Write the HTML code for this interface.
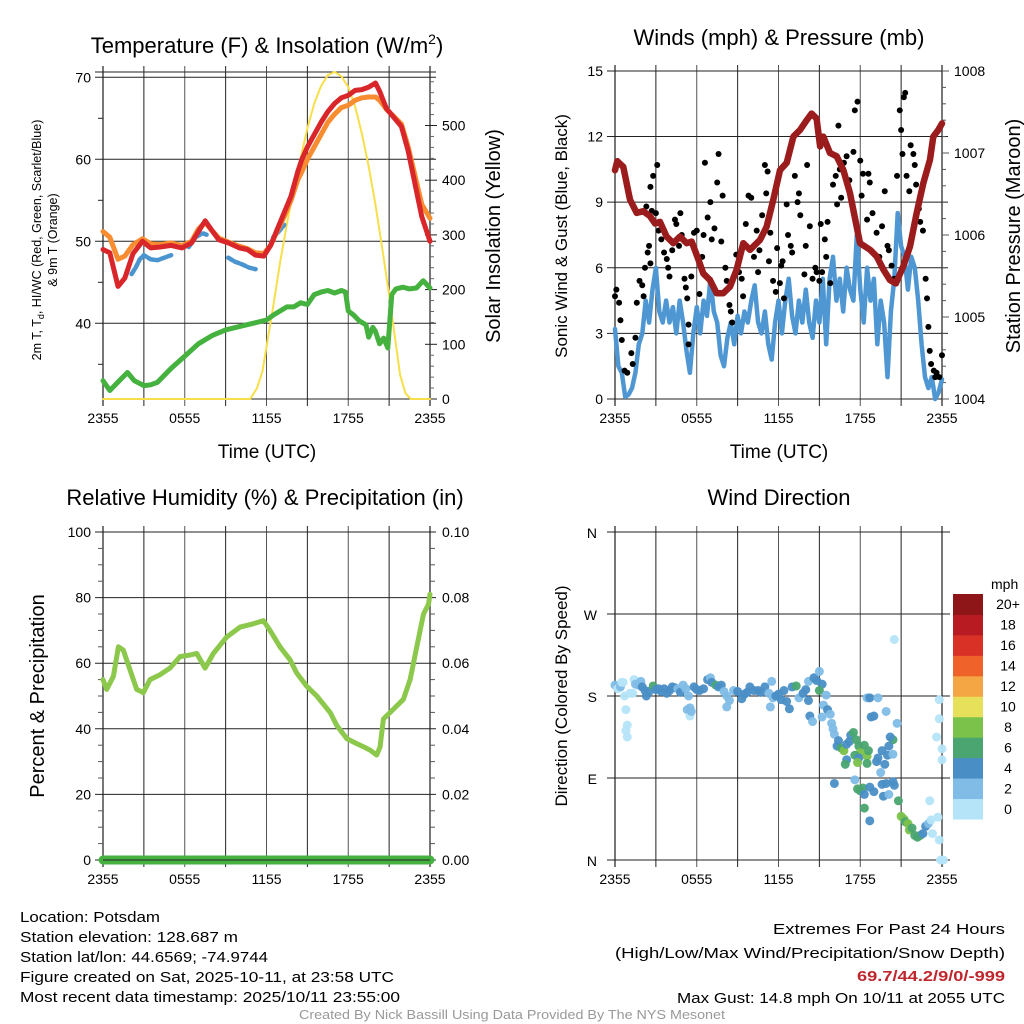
<!DOCTYPE html>
<html><head><meta charset="utf-8">
<style>
html,body{margin:0;padding:0;background:#fff;}
svg{display:block;font-family:"Liberation Sans",sans-serif;}
.nar{font-family:"Liberation Sans Narrow","Liberation Sans",sans-serif;}
</style></head>
<body>
<svg id="fig" xmlns="http://www.w3.org/2000/svg" width="1024" height="1024" viewBox="0 0 1024 1024">
<text x="267" y="53" font-size="22" text-anchor="middle">Temperature (F) &amp; Insolation (W/m<tspan font-size="14" dy="-9">2</tspan><tspan dy="9">)</tspan></text>
<text x="779" y="45" font-size="22" text-anchor="middle">Winds (mph) &amp; Pressure (mb)</text>
<text x="265" y="505" font-size="22" text-anchor="middle">Relative Humidity (%) &amp; Precipitation (in)</text>
<text x="779" y="505" font-size="22" text-anchor="middle">Wind Direction</text>

<text transform="translate(41,240) rotate(-90)" font-size="12.5" text-anchor="middle">2m T, T<tspan font-size="9" dy="3">d</tspan><tspan dy="-3">, HI/WC (Red, Green, Scarlet/Blue)</tspan></text>
<text transform="translate(57,240) rotate(-90)" font-size="12.5" text-anchor="middle">&amp; 9m T (Orange)</text>
<text transform="translate(500,236) rotate(-90)" font-size="20" text-anchor="middle">Solar Insolation (Yellow)</text>
<text transform="translate(567,236) rotate(-90)" font-size="17" text-anchor="middle">Sonic Wind &amp; Gust (Blue, Black)</text>
<text transform="translate(1020,236) rotate(-90)" font-size="20" text-anchor="middle">Station Pressure (Maroon)</text>
<text transform="translate(44,696) rotate(-90)" font-size="20" text-anchor="middle">Percent &amp; Precipitation</text>
<text transform="translate(567,696) rotate(-90)" font-size="17" text-anchor="middle">Direction (Colored By Speed)</text>
<text x="267" y="458" font-size="19" text-anchor="middle">Time (UTC)</text>
<text x="779" y="458" font-size="19" text-anchor="middle">Time (UTC)</text>

<g class="nar" font-size="14.5">
<text x="20" y="922" textLength="140" lengthAdjust="spacingAndGlyphs">Location: Potsdam</text>
<text x="20" y="942" textLength="218" lengthAdjust="spacingAndGlyphs">Station elevation: 128.687 m</text>
<text x="20" y="962" textLength="248" lengthAdjust="spacingAndGlyphs">Station lat/lon: 44.6569; -74.9744</text>
<text x="20" y="982" textLength="374" lengthAdjust="spacingAndGlyphs">Figure created on Sat, 2025-10-11, at 23:58 UTC</text>
<text x="20" y="1002" textLength="380" lengthAdjust="spacingAndGlyphs">Most recent data timestamp: 2025/10/11 23:55:00</text>
<text x="1005" y="934" text-anchor="end" textLength="232" lengthAdjust="spacingAndGlyphs">Extremes For Past 24 Hours</text>
<text x="1005" y="958" text-anchor="end" textLength="390" lengthAdjust="spacingAndGlyphs">(High/Low/Max Wind/Precipitation/Snow Depth)</text>
<text x="1005" y="981" text-anchor="end" font-weight="bold" fill="#c0272d" textLength="148" lengthAdjust="spacingAndGlyphs">69.7/44.2/9/0/-999</text>
<text x="1005" y="1003" text-anchor="end" textLength="328" lengthAdjust="spacingAndGlyphs">Max Gust: 14.8 mph On 10/11 at 2055 UTC</text>
<text x="512" y="1019" text-anchor="middle" font-size="12.5" fill="#999" textLength="426" lengthAdjust="spacingAndGlyphs">Created By Nick Bassill Using Data Provided By The NYS Mesonet</text>
</g>
<g id="layer"></g>
</svg>
<script>
// ---- data ----
const timeTicks = ["2355","0555","1155","1755","2355"];
const tempTicks = [40,50,60,70];
const insolTicks = [0,100,200,300,400,500];
const windTicks = [0,3,6,9,12,15];
const presTicks = [1004,1005,1006,1007,1008];
const rhTicks = [0,20,40,60,80,100];
const precipTicks = ["0.00","0.02","0.04","0.06","0.08","0.10"];
const dirTicks = ["N","E","S","W","N"];
const speedBins = ["0","2","4","6","8","10","12","14","16","18","20+"];

const tempH = [0,0.5,1.1,1.6,2.2,2.9,3.5,4.2,5,5.8,6.5,7.0,7.5,8.0,8.5,9.2,10,10.6,11.2,11.8,12.3,12.8,13.3,13.8,14.3,14.6,15.0,15.5,16.0,16.5,17.0,17.5,18.0,18.5,19.0,19.5,20.0,20.3,20.8,21.3,21.9,22.4,22.9,23.4,24];
const tempT = [49,48.6,44.5,45.5,48.5,50,49.2,49.3,49.5,49.2,49.8,51.2,52.5,51.3,50.2,49.8,49.2,49,48.3,48.2,49.5,51.5,53.5,55.5,58.5,60,61.5,63,64.5,65.8,66.8,67.5,67.8,68.4,68.5,68.8,69.3,68.3,66.2,65.2,64,61,57,53,50];
const temp9T = [51.2,50.5,47.8,48.2,49.6,50.3,49.7,49.6,49.8,49.5,50,51.5,52.3,51.3,50.4,49.9,49.4,49.1,48.6,48.5,49.5,51.3,53,55,57.5,58.5,60,61.5,63,64.5,65.5,66.3,66.6,67.2,67.5,67.6,67.6,67.2,66.1,65.3,64.3,61.5,58,54.5,52.8];
const dewH = [0,0.5,1.2,1.8,2.3,3,3.5,4,5,6,7,8,9,10,11,12,12.5,13,13.5,14,14.5,15,15.5,16,16.5,17,17.5,17.8,18,18.4,18.8,19.3,19.5,19.8,20,20.3,20.6,20.9,21.2,21.5,22,22.5,23,23.5,24];
const dewT = [33,31.8,33,34,33,32.4,32.5,32.8,34.5,36,37.5,38.5,39.2,39.6,40,40.4,41,41.5,42,42,42.5,42.3,43.5,43.8,44,43.7,44,43.8,41.5,41,40.3,39.8,38.3,39.5,39,37.5,38.2,37,43.5,44.2,44.4,44.2,44.3,45.2,44.3];
const hiSegH = [[2.1,2.4,2.7,3.0,3.5,4.0,4.5,5.0],[6.3,6.8,7.3,7.6],[9.2,9.7,10.2,10.7,11.2],[12.5,12.9,13.3]];
const hiSegT = [[46,46.8,47.8,48.3,47.8,47.7,48,48.3],[49.3,50.5,51,50.8],[48,47.5,47.2,46.8,46.6],[50.5,51.2,52]];
const insolH = [0,10.8,11.3,11.7,12,12.5,13,13.5,14,14.5,15,15.5,16,16.5,17,17.5,18,18.5,19,19.5,20,20.5,21,21.5,21.8,22.2,22.6,24];
const insolV = [0,0,20,50,95,170,250,320,385,440,495,540,572,592,598,590,570,535,485,425,355,275,190,100,45,10,0,0];

const presH = [0,0.17,0.61,1.1,1.59,2.08,2.57,2.94,3.3,3.79,4.28,4.77,5.26,5.63,6.12,6.48,6.97,7.46,7.95,8.44,8.93,9.42,9.91,10.64,11.13,11.62,12.11,12.6,13.09,13.58,14.07,14.43,14.8,15.05,15.29,15.78,16.27,16.76,17.25,17.74,17.98,18.72,19.2,19.69,20.18,20.62,21.16,21.65,22.14,22.63,23.12,23.36,23.73,24];
const presP = [1006.79,1006.9,1006.83,1006.43,1006.27,1006.29,1006.23,1006.14,1006.16,1005.98,1005.9,1005.98,1005.9,1005.92,1005.7,1005.53,1005.45,1005.29,1005.29,1005.37,1005.58,1005.9,1005.82,1005.94,1006.1,1006.43,1006.79,1006.88,1007.2,1007.28,1007.4,1007.48,1007.42,1007.08,1007.2,1007.0,1006.96,1006.79,1006.51,1006.1,1005.9,1005.82,1005.74,1005.58,1005.45,1005.41,1005.62,1005.86,1006.27,1006.63,1006.92,1007.2,1007.28,1007.36];
const windH = Array.from({length:97},(_, i)=>i*0.25);
const windV = [3.2,1.5,1.2,0.1,0.2,0.5,1.2,2.5,3,4.5,3.5,5,6,4,3.5,4.5,3.5,4.2,3,4.5,3.5,2.2,1.2,3,4.2,3,4.5,3.8,5.5,4,3.5,2,1.5,2.8,3.5,2.5,3.8,3,4,3.5,4.5,5.2,3.5,3,4,2.5,1.8,3.5,4.5,3,4.5,5.5,3.8,3,4.5,3.5,5,3.5,2.8,4.5,3.5,5.5,2.5,5.5,6.5,4.5,5.5,4,6,5,4.5,7.5,5,3.5,6,4.5,5.5,2.5,4.5,3.5,1,4,5.5,8.5,7,6.5,5,6.5,6,4.5,2.5,1,0.5,1,0,0.3,0.9];
const gustH = [0,0.1,0.3,0.4,0.5,0.7,0.9,1.2,1.3,1.5,1.6,1.8,2,2.1,2.2,2.4,2.5,2.6,2.3,2.7,2.6,2.8,3.1,3,3.2,3.4,3.6,3.8,3.9,4,4.2,4.4,4.5,4.7,4.8,4.9,5.1,5.2,5.3,5.4,5.4,5.6,5.8,6,6.2,6.4,6.5,6.6,6.8,7,7.1,7.3,7.5,7.6,7.8,7.9,8.1,8.2,8.4,8.5,8.6,8.9,9.1,9.3,9.4,9.6,9.8,10,10.2,10.4,10.5,10.6,10.8,11,11.1,11.2,11.3,11.4,11.6,11.8,11.9,12.1,12.2,12.3,12.4,12.6,12.7,12.9,13,13.2,13.4,13.5,13.6,13.9,14,14.1,14.3,14.5,14.7,14.8,15,15.1,15.2,15.4,15.5,15.6,15.8,16,16.2,16.3,16.4,16.5,16.6,16.8,17,17.2,17.5,17.6,17.8,18,18.1,18.2,18.5,18.6,18.7,18.9,19.2,19.4,19.6,19.8,20,20.1,20.3,20.5,20.7,20.9,21,21.1,21.2,21.3,21.4,21.6,21.7,21.9,22,22.1,22.3,22.4,22.6,22.8,22.9,23,23.1,23.2,23.4,23.5,23.6,23.8,24];
const gustV = [4.7,5,4.4,3.6,2.7,1.3,1.2,2.1,1.6,2.8,4.4,5.4,5.2,4.7,6,6.7,7,6.2,8.8,8.6,9.7,10.2,10.7,8.5,7.7,7.3,6.7,6.4,6,5.6,6.8,8.2,8,7,8.5,7.5,5.5,5.1,4.6,3.4,2.5,5.6,7.6,7.7,4.8,6.5,7.5,10.8,8.3,9,7.3,7.8,9.9,11.2,7.2,9.3,6,5.4,4.3,4,3.5,6.6,5.8,5.5,4.7,8,9.3,9.2,6.5,7.7,5.8,6.8,8.4,10.7,9.4,10.4,6.3,7.6,5.4,4.9,6.9,5.3,6.1,6.3,4.6,8.9,7.5,7,6.7,10.2,9,9.4,8.4,5.7,7,10.7,7.9,5.5,6,5.8,5.4,8,5.8,7.3,6.5,8.1,5.3,9.8,10.2,8.9,12.5,10.5,9.2,10.8,11.1,10,11.3,13.2,13.6,10.9,9.3,10.3,8.2,10.3,9.9,8.5,7.6,6.5,7.9,9.5,7,6.8,6.1,5.5,10.2,13.2,12.3,11.2,13.8,14,10.2,9.5,11.6,11.2,10.7,9.8,8.7,8.1,7.7,5.5,4.6,3.3,2.2,1.6,1.3,1,1.2,1,2];

const rhH = [0,0.27,0.76,1.13,1.49,1.98,2.47,2.96,3.45,4.18,4.92,5.65,6.39,6.88,7.49,8.1,9.08,10.06,11.03,11.77,12.26,12.99,13.73,14.22,14.95,15.69,16.67,17.16,17.89,18.62,19.11,19.6,20.09,20.34,20.58,21.32,22.05,22.54,23.03,23.52,23.89,24];
const rhV = [55,52,56,65,64,58,52,51,55,56.5,58.5,62,62.5,63,58.5,63,68,71,72,73,70,65,61,57,53,50,45,41,37,35.5,34.5,33.5,32,34.5,43,46,49,55,65,75,78,81];
const precipH = [0,24];
const precipV = [0,0];

const dirH = [0,0.2,0.4,0.5,0.6,0.7,0.8,0.9,0.8,0.9,1.1,1.3,1.4,1.5,1.7,1.9,2.0,2.2,2.3,2.5,2.8,3,3.2,3.4,3.6,3.8,4,4.2,4.4,4.6,4.8,5,5.2,5.4,5.3,5.5,5.5,5.6,5.8,6,6.2,6.5,6.8,7,7.1,7.4,7.6,7.8,8,8.2,8.4,8.2,8.7,9,9.3,9.5,9.7,9.9,10.2,10.5,10.7,11,11.3,11.4,11.5,11.6,11.8,12,12.2,12.4,12.6,12.8,13,13.3,13.5,13.8,14,14.2,14.3,14.5,14.2,14.6,14.8,15,15.2,15,15.3,15.5,15.2,15.6,15.8,15.9,16.0,16.1,16.4,16.3,16.6,16.8,17,17.3,17.2,17.5,17.7,17.9,18.0,18.3,17.6,17.9,17.0,16.9,17.8,18.5,18.6,18.5,19.2,19.5,19.8,20,18.5,18.7,19.3,18.8,19.0,19.9,20.7,20.4,20.2,20.1,19.6,19.3,20.4,16.1,17.6,17.8,18.0,18.2,18.7,19.0,18.3,18.3,18.7,19.6,19.9,20.4,20.5,19.7,20.1,20.8,21.0,21.2,21.3,21.5,21.6,21.8,22.0,22.2,22.4,22.6,22.8,23,23.2,23.1,23.3,23.7,23.8,23.9,24.1,23.8,23.8,23.6,24.0,24.0,20.5];
const dirD = [192,188,190,195,195,180,165,148,142,135,183,183,198,193,192,196,190,186,180,185,191,187,188,185,188,183,186,190,189,188,184,192,188,180,165,167,158,163,190,187,186,188,198,200,195,192,190,192,185,180,175,168,186,185,177,182,184,190,186,186,184,190,183,168,196,178,180,182,176,186,174,166,190,191,178,183,187,175,158,152,196,200,197,207,193,186,170,181,157,165,160,150,144,138,131,125,123,120,127,137,130,140,132,125,118,126,115,112,110,105,107,114,120,106,108,96,105,115,178,178,178,157,158,163,150,132,135,125,120,112,116,84,88,78,76,79,80,75,72,57,43,83,84,86,82,70,72,65,48,45,42,40,33,35,27,25,27,29,37,40,44,65,29,47,22,0,0,176,155,135,110,122,242];
const dirS = [2,1,2,1,1,1,1,1,1,1,1,1,1,3,3,3,4,4,4,4,6,4,4,4,4,4,4,4,4,3,4,3,3,3,3,3,1,3,4,4,4,4,4,3,4,6,4,4,3,3,2,3,3,4,4,4,4,4,4,4,4,4,3,3,3,3,4,4,4,4,4,4,4,6,3,4,4,4,4,3,3,4,4,3,4,6,3,3,3,4,3,3,3,3,4,4,6,8,4,4,4,6,6,6,8,6,6,4,4,6,8,8,6,6,4,2,4,4,2,4,2,4,4,3,3,6,4,4,4,4,2,4,3,6,6,6,4,4,4,6,4,4,4,4,4,4,3,6,8,8,6,8,8,6,6,6,6,4,4,2,1,1,1,1,1,1,1,1,1,1,1,1,1];

const binColors = ["#b5e4f8","#80bce6","#4a8ec6","#4aa570","#7bc24a","#e6e05a","#f5a644","#ef6229","#da3127","#b81b22","#8e1518"];

// ---- helpers ----
const NS = "http://www.w3.org/2000/svg";
const layer = document.getElementById("layer");
function mk(tag, attrs, name, parent) {
  const el = document.createElementNS(NS, tag);
  for (const k in attrs) el.setAttribute(k, attrs[k]);
  
  
  (parent || layer).appendChild(el);
  return el;
}
function tx(x, y, s, anchor, size, name) {
  const t = mk("text", {x: x, y: y, "text-anchor": anchor, "font-size": size}, name);
  t.textContent = s;
  return t;
}
function xScale(x0, x1) { return h => x0 + h * (x1 - x0) / 24; }
function poly(xs, ys, fx, fy, attrs, name) {
  const pts = xs.map((h, i) => fx(h).toFixed(1) + "," + fy(ys[i]).toFixed(1)).join(" ");
  const a = Object.assign({points: pts, fill: "none", "stroke-linejoin": "round", "stroke-linecap": "round"}, attrs);
  return mk("polyline", a, name);
}
function frame(x0, x1, yTop, yBot, name) {
  const fx = xScale(x0, x1);
  for (let i = 0; i <= 8; i++) {
    const x = fx(i * 3);
    mk("line", {x1: x, x2: x, y1: yTop - 6, y2: yBot + 7, stroke: (i % 2 ? "#222" : "#555"), "stroke-width": (i === 0 || i === 8) ? 1.6 : 1}, name + "-vgrid");
  }
  timeTicks.forEach((s, i) => {
    tx(fx(i * 6), yBot + 24, s, "middle", 14, name + "-x-tick-label");
  });
  return fx;
}
function hgrid(x0, x1, y, name) {
  mk("line", {x1: x0 - 8, x2: x1 + 6, y1: y, y2: y, stroke: "#222", "stroke-width": 1}, name);
}

// ---- Panel 1: temperature ----
{
  const x0 = 103, x1 = 430, top = 72, bot = 399;
  const yT = t => 241.3 - (t - 50) * 8.2;
  const yI = v => 399 - v * 0.547;
  const fx = frame(x0, x1, top, bot, "temp");
  mk("line", {x1: x0 - 8, x2: x1 + 6, y1: top, y2: top, stroke: "#222"}, "temp-top-border");
  mk("line", {x1: x0, x2: x1, y1: bot, y2: bot, stroke: "#222"}, "temp-bottom-border");
  tempTicks.forEach(t => {
    hgrid(x0, x1, yT(t), "temp-gridline");
    tx(x0 - 12, yT(t) + 5, String(t), "end", 14, "temp-y-tick-label");
  });
  [35, 45, 55, 65].forEach(t => mk("line", {x1: x0 - 5, x2: x0, y1: yT(t), y2: yT(t), stroke: "#222"}, "temp-minor-tick"));
  insolTicks.forEach(v => {
    mk("line", {x1: x1 - 5, x2: x1 + 7, y1: yI(v), y2: yI(v), stroke: "#222"}, "insol-tick");
    tx(x1 + 12, yI(v) + 5, String(v), "start", 14, "insol-tick-label");
  });
  for (let v = 20; v < 600; v += 20) if (v % 100) mk("line", {x1: x1, x2: x1 + 4, y1: yI(v), y2: yI(v), stroke: "#666"}, "insol-minor-tick");
  poly(insolH, insolV, fx, yI, {stroke: "#f8df4a", "stroke-width": 2}, "insolation-line");
  poly(dewH, dewT, fx, yT, {stroke: "#45b13f", "stroke-width": 5}, "dewpoint-line");
  hiSegH.forEach((seg, i) => poly(seg, hiSegT[i], fx, yT, {stroke: "#4a95d0", "stroke-width": 4.5, "stroke-dasharray": "5 2"}, "heat-index-segment"));
  poly(tempH, temp9T, fx, yT, {stroke: "#f78c30", "stroke-width": 5}, "temp-9m-line");
  poly(tempH, tempT, fx, yT, {stroke: "#d8262a", "stroke-width": 5}, "temp-2m-line");
}

// ---- Panel 2: wind & pressure ----
{
  const x0 = 615, x1 = 942, top = 71, bot = 399;
  const yW = v => 399 - v * 21.87;
  const yP = p => 399 - (p - 1004) * 82;
  const fx = frame(x0, x1, top, bot, "wind");
  windTicks.forEach(v => {
    hgrid(x0, x1, yW(v), "wind-gridline");
    tx(x0 - 12, yW(v) + 5, String(v), "end", 14, "wind-y-tick-label");
  });
  presTicks.forEach(p => tx(x1 + 12, yP(p) + 5, String(p), "start", 14, "pressure-tick-label"));
  for (let p = 1004; p <= 1008.001; p += 0.2) mk("line", {x1: x1, x2: x1 + (Math.abs(p - Math.round(p)) < 0.01 ? 7 : 4), y1: yP(p), y2: yP(p), stroke: "#555"}, "pressure-tick");
  poly(windH, windV, fx, yW, {stroke: "#4f97d3", "stroke-width": 4.5}, "sonic-wind-line");
  gustH.forEach((h, i) => {
    mk("circle", {cx: fx(h), cy: yW(gustV[i]), r: 3, fill: "#000"}, "gust-point");
  });
  poly(presH, presP, fx, yP, {stroke: "#9b1c1c", "stroke-width": 6.5}, "pressure-line");
}

// ---- Panel 3: RH & precip ----
{
  const x0 = 103, x1 = 430, top = 532, bot = 860;
  const yR = r => 860 - r * 3.28;
  const fx = frame(x0, x1, top, bot, "rh");
  rhTicks.forEach((r, i) => {
    hgrid(x0, x1, yR(r), "rh-gridline");
    tx(x0 - 12, yR(r) + 5, String(r), "end", 14, "rh-y-tick-label");
    tx(x1 + 12, yR(r) + 5, precipTicks[i], "start", 14, "precip-tick-label");
  });
  for (let r = 5; r < 100; r += 5) if (r % 20) {
    mk("line", {x1: x0 - 5, x2: x0, y1: yR(r), y2: yR(r), stroke: "#555"}, "rh-minor-tick");
    mk("line", {x1: x1, x2: x1 + 5, y1: yR(r), y2: yR(r), stroke: "#555"}, "precip-minor-tick");
  }
  poly(rhH, rhV, fx, yR, {stroke: "#8cc84b", "stroke-width": 5}, "rh-line");
  poly(precipH, precipV.map(v => v * 1000), fx, yR, {stroke: "#45b13f", "stroke-width": 9}, "precip-line");
  mk("line", {x1: x0, x2: x1, y1: bot, y2: bot, stroke: "#222"}, "rh-bottom-border");
}

// ---- Panel 4: wind direction ----
{
  const x0 = 615, x1 = 942, top = 532, bot = 860;
  const yD = d => 860 - d * 328 / 360;
  const fx = frame(x0, x1, top, bot, "dir");
  dirTicks.forEach((s, i) => {
    hgrid(x0, x1 + 2, yD(i * 90), "dir-gridline");
    tx(x0 - 18, yD(i * 90) + 6, s, "end", 14, "dir-y-tick-label");
  });
  dirH.forEach((h, i) => {
    const bin = Math.min(10, Math.floor(dirS[i] / 2));
    mk("circle", {cx: fx(h), cy: yD(dirD[i]), r: 4.5, fill: binColors[bin], "fill-opacity": 0.95}, "direction-point");
  });
  // colorbar
  const cbX = 953, cbTop = 594, cbH = 225 / 11;
  tx(991, 589, "mph", "start", 14, "colorbar-title");
  speedBins.forEach((s, i) => {
    const row = 10 - i;
    mk("rect", {x: cbX, y: cbTop + row * cbH, width: 30, height: cbH + 0.5, fill: binColors[i]}, "colorbar-swatch");
    tx(1008, cbTop + row * cbH + cbH / 2 + 5, s, "middle", 14, "colorbar-label");
  });
}
</script>
</body></html>
